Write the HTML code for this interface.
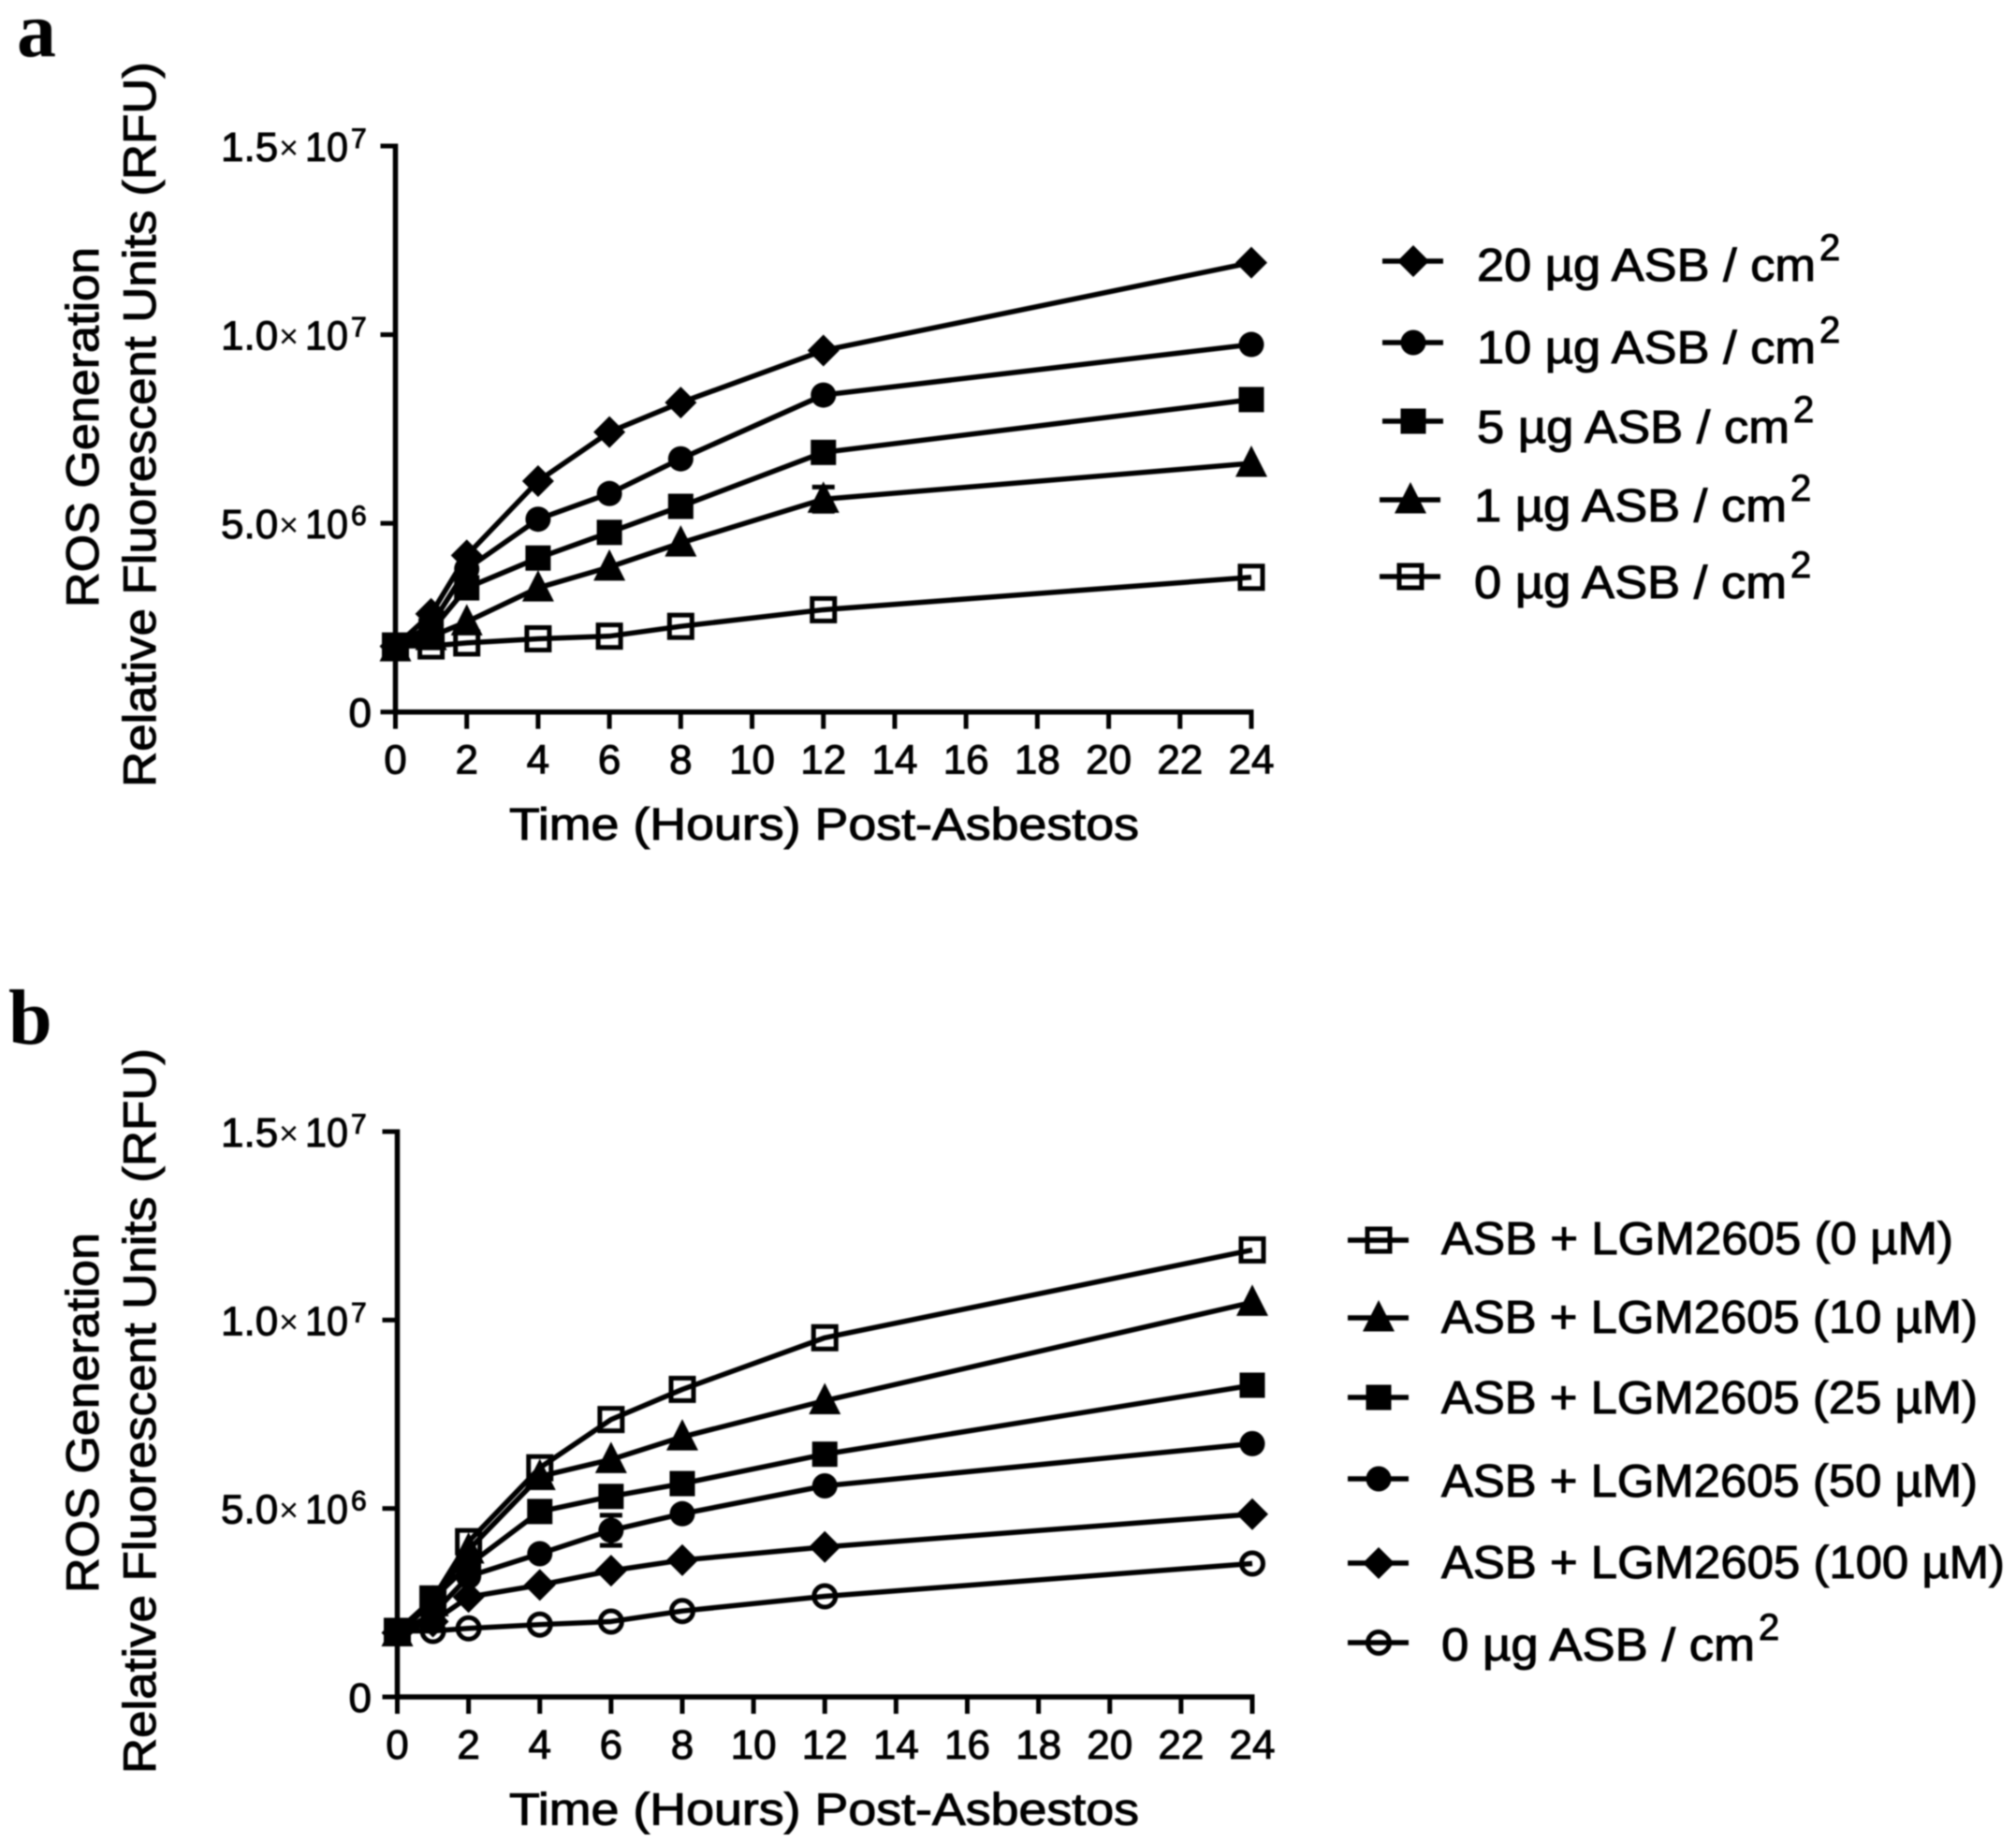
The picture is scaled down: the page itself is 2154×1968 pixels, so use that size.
<!DOCTYPE html>
<html lang="en">
<head>
<meta charset="utf-8">
<title>ROS generation charts</title>
<style>
html,body{margin:0;padding:0;background:#fff;}
svg{display:block;}
text{font-family:"Liberation Sans",Arial,sans-serif;fill:#000;}
.t{stroke:#000;stroke-width:1px;}
</style>
</head>
<body>
<svg id="figure" xmlns="http://www.w3.org/2000/svg" width="2154" height="1968" viewBox="0 0 2154 1968">
<defs><filter id="soft" x="0" y="0" width="100%" height="100%"><feGaussianBlur stdDeviation="0.8"/></filter></defs>
<rect width="2154" height="1968" fill="#fff"/>
<g id="root" filter="url(#soft)"></g>
</svg>
<script>
// ---- shared data ----
const hours = [0, 1, 2, 4, 6, 8, 12, 24];
const xTickValues = [0, 2, 4, 6, 8, 10, 12, 14, 16, 18, 20, 22, 24];
const yTickValues = [0, 5000000, 10000000, 15000000];
const yTickMantissas = ["0", "5.0", "1.0", "1.5"];
const yTickExponents = ["", "6", "7", "7"];

// ---- panel a data ----
const a20 = [1740000, 2600000, 4150000, 6120000, 7420000, 8200000, 9580000, 11910000];
const a10 = [1750000, 2300000, 3790000, 5110000, 5790000, 6710000, 8400000, 9740000];
const a5  = [1700000, 2150000, 3290000, 4080000, 4760000, 5450000, 6880000, 8280000];
const a1  = [1700000, 2000000, 2390000, 3290000, 3840000, 4480000, 5640000, 6590000];
const a0  = [1750000, 1750000, 1830000, 1940000, 2010000, 2270000, 2710000, 3570000];
const a1ErrorHours = [12];
const a1ErrorSizes = [320000];

// ---- panel b data ----
const b0   = [1740000, 2600000, 4120000, 6080000, 7360000, 8160000, 9530000, 11860000];
const b10  = [1700000, 2500000, 3900000, 5850000, 6300000, 6900000, 7860000, 10470000];
const b25  = [1700000, 2600000, 3500000, 4920000, 5320000, 5660000, 6440000, 8270000];
const b50  = [1700000, 2200000, 3200000, 3800000, 4420000, 4860000, 5600000, 6720000];
const b100 = [1700000, 2000000, 2650000, 2970000, 3350000, 3630000, 3980000, 4850000];
const bCtl = [1750000, 1750000, 1820000, 1920000, 2000000, 2280000, 2670000, 3540000];
const b50ErrorHours = [6];
const b50ErrorSizes = [400000];

const root = document.getElementById('root');
const NS = 'http://www.w3.org/2000/svg';
function mk(tag, props, parent) {
  const el = document.createElementNS(NS, tag);
  for (const k in props) el.setAttribute(k, props[k]);
  (parent || root).appendChild(el);
  return el;
}

function drawMarker(parent, kind, cx, cy) {
  let el;
  if (kind === 'diamond') {
    el = mk('polygon', {points: [cx, cy - 17, cx + 17, cy, cx, cy + 17, cx - 17, cy].join(' '), fill: '#000'}, parent);
  } else if (kind === 'circle') {
    el = mk('circle', {cx: cx, cy: cy, r: 13.5, fill: '#000'}, parent);
  } else if (kind === 'square') {
    el = mk('rect', {x: cx - 13.5, y: cy - 13.5, width: 27, height: 27, fill: '#000'}, parent);
  } else if (kind === 'triangle') {
    el = mk('polygon', {points: [cx, cy - 19, cx + 17, cy + 14.5, cx - 17, cy + 14.5].join(' '), fill: '#000'}, parent);
  } else if (kind === 'open-square') {
    el = mk('rect', {x: cx - 12, y: cy - 12, width: 24, height: 24, fill: 'none', stroke: '#000', 'stroke-width': 5}, parent);
  } else {
    el = mk('circle', {cx: cx, cy: cy, r: 11.5, fill: 'none', stroke: '#000', 'stroke-width': 5}, parent);
  }
  
  
}

function drawPanel(cfg) {
  const xA = h => cfg.x0 + h * (cfg.x24 - cfg.x0) / 24;
  const yA = v => cfg.y0 - v * (cfg.y0 - cfg.yTop) / 15000000;

  const axes = mk('g', {});
  
  

  const yAxis = mk('line', {x1: cfg.x0, x2: cfg.x0, y1: yA(15000000) - 2.5, y2: cfg.y0 + 2.5, stroke: '#000', 'stroke-width': 5.5}, axes);
  
  
  const xAxis = mk('line', {x1: cfg.x0 - 2.5, x2: xA(24) + 2.5, y1: cfg.y0, y2: cfg.y0, stroke: '#000', 'stroke-width': 5.5}, axes);
  
  

  xTickValues.forEach(v => {
    const t = mk('line', {x1: xA(v), x2: xA(v), y1: cfg.y0, y2: cfg.y0 + 18, stroke: '#000', 'stroke-width': 5}, axes);
    
    
    const l = mk('text', {x: xA(v), y: cfg.y0 + 66, 'text-anchor': 'middle', 'font-size': 44, class: 't'}, axes);
    l.textContent = String(v);
    
    
  });

  yTickValues.forEach((v, i) => {
    const y = yA(v);
    const t = mk('line', {x1: cfg.x0 - 16, x2: cfg.x0, y1: y, y2: y, stroke: '#000', 'stroke-width': 5}, axes);
    
    
    const g = mk('g', {}, axes);
    
    
    if (yTickExponents[i] === '') {
      const z = mk('text', {x: 397, y: y + 16, 'text-anchor': 'end', 'font-size': 44, class: 't'}, g);
      z.textContent = yTickMantissas[i];
    } else {
      const m = mk('text', {x: 236, y: y + 16, 'font-size': 44, class: 't'}, g);
      m.textContent = yTickMantissas[i];
      const c = mk('text', {x: 298, y: y + 14, 'font-size': 36}, g);
      c.textContent = '×';
      const b = mk('text', {x: 326, y: y + 16, 'font-size': 44, class: 't', textLength: 46, lengthAdjust: 'spacingAndGlyphs'}, g);
      b.textContent = '10';
      const e = mk('text', {x: 375, y: y + 2, 'font-size': 30, class: 't'}, g);
      e.textContent = yTickExponents[i];
    }
  });

  const xTitle = mk('text', {x: 544, y: cfg.y0 + 136.5, 'font-size': 48, class: 't', textLength: 673, lengthAdjust: 'spacingAndGlyphs'});
  xTitle.textContent = 'Time (Hours) Post-Asbestos';
  
  

  const t1 = mk('text', {transform: 'translate(105,' + cfg.title1Y + ') rotate(-90)', 'font-size': 49, textLength: 385, lengthAdjust: 'spacingAndGlyphs', class: 't'});
  t1.textContent = 'ROS Generation';
  
  
  const t2 = mk('text', {transform: 'translate(166,' + cfg.title2Y + ') rotate(-90)', 'font-size': 49, textLength: 775, lengthAdjust: 'spacingAndGlyphs', class: 't'});
  t2.textContent = 'Relative Fluorescent Units (RFU)';
  
  

  cfg.series.forEach(s => {
    const g = mk('g', {});
    
    
    const pts = hours.map((h, i) => xA(h) + ',' + yA(s.values[i])).join(' ');
    const line = mk('polyline', {points: pts, fill: 'none', stroke: '#000', 'stroke-width': 5.5, 'stroke-linejoin': 'round'}, g);
    
    
    (s.errHours || []).forEach((h, k) => {
      const v = s.values[hours.indexOf(h)];
      const d = s.errSizes[k];
      const cap = [v + d, v - d];
      const bar = mk('line', {x1: xA(h), x2: xA(h), y1: yA(cap[0]), y2: yA(cap[1]), stroke: '#000', 'stroke-width': 5}, g);
      
      
      cap.forEach(c => {
        const cl = mk('line', {x1: xA(h) - 12, x2: xA(h) + 12, y1: yA(c), y2: yA(c), stroke: '#000', 'stroke-width': 5}, g);
        
        
      });
    });
    hours.forEach((h, i) => drawMarker(g, s.kind, xA(h), yA(s.values[i])));
  });

  cfg.legend.forEach((r, i) => {
    const g = mk('g', {});
    
    
    const ll = mk('line', {x1: r.lx, x2: r.lx + 65, y1: r.ly, y2: r.ly, stroke: '#000', 'stroke-width': 5.5}, g);
    
    
    drawMarker(g, r.kind, r.lx + 33, r.ly);
    const tx = mk('text', {x: r.tx, y: r.by, 'font-size': 49, textLength: r.w, lengthAdjust: 'spacingAndGlyphs', class: 't'}, g);
    tx.textContent = r.label;
    
    
    if (r.sup) {
      const sp = mk('text', {x: r.tx + r.w + 4, y: r.by - 22, 'font-size': 40, class: 't'}, g);
      sp.textContent = '2';
      
      
    }
  });
}

const labelA = mk('text', {x: 18, y: 60, 'font-size': 84, 'font-weight': 'bold', style: 'font-family:"Liberation Serif",serif'});
labelA.textContent = 'a';


const labelB = mk('text', {x: 9, y: 1115, 'font-size': 84, 'font-weight': 'bold', style: 'font-family:"Liberation Serif",serif'});
labelB.textContent = 'b';



drawPanel({
  id: 'panel-a', x0: 422.5, x24: 1337, y0: 760.7, yTop: 156, title1Y: 649, title2Y: 841,
  series: [
    {name: '0-ug', kind: 'open-square', values: a0},
    {name: '1-ug', kind: 'triangle', values: a1, errHours: a1ErrorHours, errSizes: a1ErrorSizes},
    {name: '5-ug', kind: 'square', values: a5},
    {name: '10-ug', kind: 'circle', values: a10},
    {name: '20-ug', kind: 'diamond', values: a20}
  ],
  legend: [
    {kind: 'diamond',     lx: 1477, ly: 279, tx: 1578, by: 300, w: 362, label: '20 µg ASB / cm', sup: true},
    {kind: 'circle',      lx: 1477, ly: 366, tx: 1578, by: 388, w: 362, label: '10 µg ASB / cm', sup: true},
    {kind: 'square',      lx: 1477, ly: 450, tx: 1578, by: 473, w: 334, label: '5 µg ASB / cm', sup: true},
    {kind: 'triangle',    lx: 1474, ly: 534, tx: 1575, by: 557, w: 334, label: '1 µg ASB / cm', sup: true},
    {kind: 'open-square', lx: 1474, ly: 616, tx: 1575, by: 639, w: 334, label: '0 µg ASB / cm', sup: true}
  ]
});

drawPanel({
  id: 'panel-b', x0: 424.5, x24: 1338, y0: 1813, yTop: 1209, title1Y: 1702, title2Y: 1895,
  series: [
    {name: 'no-asbestos', kind: 'open-circle', values: bCtl},
    {name: 'lgm-100', kind: 'diamond', values: b100},
    {name: 'lgm-50', kind: 'circle', values: b50, errHours: b50ErrorHours, errSizes: b50ErrorSizes},
    {name: 'lgm-25', kind: 'square', values: b25},
    {name: 'lgm-10', kind: 'triangle', values: b10},
    {name: 'lgm-0', kind: 'open-square', values: b0}
  ],
  legend: [
    {kind: 'open-square', lx: 1440, ly: 1325, tx: 1540, by: 1340, w: 547, label: 'ASB + LGM2605 (0 µM)'},
    {kind: 'triangle',    lx: 1440, ly: 1408, tx: 1540, by: 1424, w: 573, label: 'ASB + LGM2605 (10 µM)'},
    {kind: 'square',      lx: 1440, ly: 1493, tx: 1540, by: 1510, w: 573, label: 'ASB + LGM2605 (25 µM)'},
    {kind: 'circle',      lx: 1440, ly: 1580, tx: 1540, by: 1599, w: 573, label: 'ASB + LGM2605 (50 µM)'},
    {kind: 'diamond',     lx: 1440, ly: 1670, tx: 1540, by: 1686, w: 602, label: 'ASB + LGM2605 (100 µM)'},
    {kind: 'open-circle', lx: 1440, ly: 1755, tx: 1540, by: 1774, w: 335, label: '0 µg ASB / cm', sup: true}
  ]
});
</script>
</body>
</html>
